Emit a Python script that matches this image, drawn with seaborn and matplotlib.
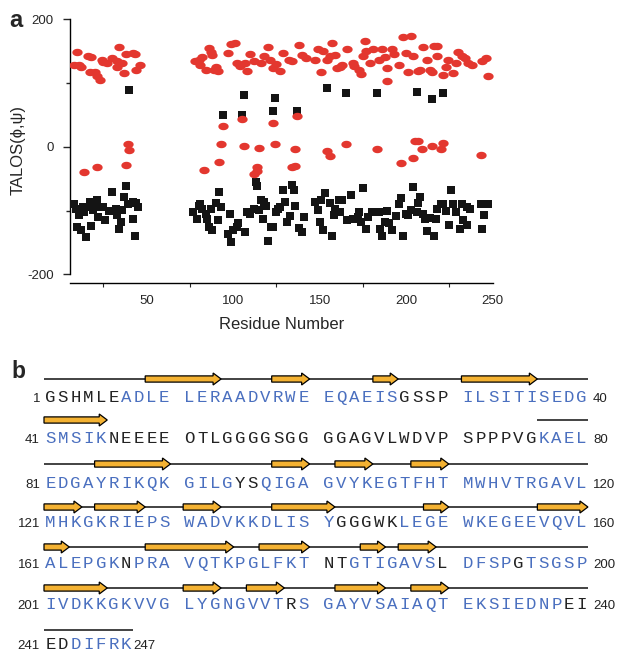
import numpy as np
import pandas as pd
import seaborn as sns
import matplotlib.pyplot as plt
from matplotlib.path import Path
from matplotlib.patches import FancyArrow
from matplotlib.ticker import FixedLocator

# ---------------- panel a data (TALOS phi / psi per residue) ----------------
psi_res = [8, 10, 11, 12, 16, 18, 17, 20, 21, 23, 24, 25, 27, 30, 33, 33, 34, 36, 37, 38,
           42, 43, 44, 46, 14, 21, 38, 39, 40,
           78, 80, 81, 82, 84, 86, 87, 88, 89, 90, 91, 97, 99, 101, 102, 104, 107, 108, 110,
           112, 116, 118, 120, 121, 123, 125, 127, 129, 132, 134, 138, 140, 142, 147, 149,
           152, 151, 154, 156, 157, 159, 160, 162, 163, 166, 169, 170, 173, 174, 175, 176,
           177, 179, 181, 184, 186, 188, 189, 189, 192, 193, 196, 198, 200, 201, 203, 204,
           207, 208, 210, 212, 214, 215, 216, 218, 218, 221, 223, 224, 227, 229, 230, 232,
           234, 236, 238, 244, 246, 247,
           83, 92, 93, 94, 105, 106, 112, 114, 114, 115, 123, 124, 134, 136, 136, 137, 154,
           156, 165, 183, 197, 204, 205, 207, 209, 215, 220, 221, 243]
psi_val = [128, 149, 128, 126, 142, 141, 118, 118, 111, 105, 137, 133, 132, 139, 135, 126, 157, 131, 116, 146,
           148, 146, 121, 129, -39, -31, -28, 5, -5,
           134, 136, 128, 141, 120, 155, 149, 144, 120, 126, 119, 148, 162, 163, 131, 127, 132, 119, 146,
           134, 131, 142, 156, 136, 123, 130, 119, 148, 136, 135, 160, 144, 140, 137, 154,
           151, 118, 136, 142, 163, 144, 123, 126, 128, 153, 132, 127, 121, 115, 142, 166,
           151, 131, 154, 137, 153, 141, 123, 104, 153, 146, 128, 173, 147, 118, 174, 142,
           119, 120, 157, 136, 121, 118, 158, 159, 142, 113, 126, 136, 116, 131, 149, 142,
           139, 131, 128, 134, 140, 111,
           -37, -23, 5, 32, 43, 1, -42, -32, -38, -1, 38, 4, -31, -30, -3, 48, -6,
           -14, 5, -4, -26, -18, 10, 9, -3, 2, -3, 6, -13]

phi_res = [40, 8, 9, 11, 10, 12, 15, 14, 16, 17, 18, 19, 21, 22, 23, 25, 26, 30, 32, 33,
           34, 35, 36, 38, 37, 39, 42, 42, 43, 45, 13, 20, 28, 44,
           106, 105, 94, 124, 123, 137, 154, 165, 183, 206, 215, 221,
           77, 79, 80, 81, 82, 84, 85, 86, 87, 88, 90, 91, 92, 93, 97, 98, 99, 100, 102, 103,
           107, 108, 110, 112, 113, 114, 115, 116, 117, 118, 119, 120, 122, 123, 125, 126,
           127, 129, 130, 131, 133, 134, 135, 136, 138, 140, 141, 147, 149, 150, 151, 152,
           153, 156, 157, 158, 159, 161, 162, 163, 166, 168, 169, 172, 173, 174, 175, 177,
           178, 180, 184, 185, 186, 188, 189, 190, 192, 194, 196, 197, 198, 200, 201, 203,
           204, 206, 207, 208, 210, 211, 212, 214, 216, 217, 218, 220, 221, 223, 225, 226,
           227, 229, 231, 232, 233, 235, 235, 237, 243, 244, 245, 247]
phi_val = [90, -89, -97, -107, -126, -131, -142, -102, -94, -86, -124, -99, -84, -110, -94, -94, -114, -70, -98, -107,
           -128, -118, -99, -61, -79, -89, -86, -113, -139, -94, -95, -90, -100, -88,
           81, 50, 50, 77, 57, 56, 92, 84, 85, 86, 75, 85,
           -102, -113, -92, -89, -98, -105, -113, -125, -98, -131, -88, -115, -71, -95, -136, -105, -149, -130, -125, -119,
           -134, -102, -105, -97, -55, -62, -99, -83, -113, -86, -92, -147, -125, -126, -102, -97,
           -94, -68, -86, -118, -109, -59, -68, -92, -127, -134, -110, -86, -99, -118, -84, -131,
           -73, -88, -139, -107, -97, -84, -102, -84, -114, -76, -113, -110, -102, -118, -64, -128,
           -110, -102, -102, -128, -140, -118, -101, -119, -131, -109, -89, -80, -140, -105, -107, -99,
           -63, -102, -88, -79, -105, -113, -132, -112, -139, -113, -98, -89, -90, -101, -123, -67,
           -89, -102, -128, -89, -115, -123, -95, -98, -89, -128, -107, -89]

# ---------------- panel b data (sequence + secondary structure) ----------------
sequence = ("GSHMLEADLELERAADVRWEEQAEISGSSPILSITISEDG"
            "SMSIKNEEEEOTLGGGGSGGGGAGVLWDVPSPPPVGKAEL"
            "EDGAYRIKQKGILGYSQIGAGVYKEGTFHTMWHVTRGAVL"
            "MHKGKRIEPSWADVKKDLISYGGGWKLEGEWKEGEEVQVL"
            "ALEPGKNPRAVQTKPGLFKTNTGTIGAVSLDFSPGTSGSP"
            "IVDKKGKVVGLYGNGVVTRSGAYVSAIAQTEKSIEDNPEI"
            "EDDIFRK")
unassigned = [(1, 6), (27, 30), (46, 76), (95, 96), (142, 146), (167, 167), (181, 182),
              (190, 190), (195, 195), (219, 219), (239, 240), (241, 242)]
strands = [(9, 13), (18, 20), (25, 26), (31, 36), (41, 45), (85, 90), (98, 100), (102, 104),
           (108, 110), (121, 123), (125, 128), (131, 133), (138, 141), (149, 150), (157, 160),
           (161, 162), (169, 174), (177, 180), (184, 185), (187, 189), (201, 205), (211, 213),
           (216, 218), (222, 225), (228, 230)]
coil_lines = [(1, 40), (77, 80), (81, 120), (121, 160), (161, 200), (201, 240), (241, 247)]

RED = "#E3372F"
BLACK = "#141414"
BLUE = "#4A6FBF"
ORANGE = "#F4B232"

sns.set_style("ticks")
plt.rcParams["font.family"] = ["Liberation Sans", "DejaVu Sans"]

W, H = 621, 654
fig = plt.figure(figsize=(W / 100, H / 100), dpi=100)

# ---------------- panel a ----------------
ax = fig.add_axes([69.7 / W, 1 - 282.7 / H, 423 / W, 264.6 / H])

t = np.linspace(0, 2 * np.pi, 41)
ellipse = Path(np.column_stack([np.cos(t), 0.72 * np.sin(t)]), closed=True)

df_phi = pd.DataFrame({"residue": phi_res, "angle": phi_val})
df_psi = pd.DataFrame({"residue": psi_res, "angle": psi_val})
sns.scatterplot(data=df_phi, x="residue", y="angle", marker="s", s=31, color=BLACK,
                linewidth=0, ax=ax, zorder=3)
sns.scatterplot(data=df_psi, x="residue", y="angle", marker=ellipse, s=55, color=RED,
                linewidth=0, ax=ax, zorder=4)

ax.set_xlim(5.5, 250)
ax.set_ylim(-213, 202)
sns.despine(ax=ax)
ax.spines["left"].set_bounds(-200, 200)
for sp in ("left", "bottom"):
    ax.spines[sp].set_linewidth(1.0)
    ax.spines[sp].set_color("black")

ax.set_yticks([-200, 0, 200])
ax.set_yticklabels(["-200", "0", "200"])
ax.yaxis.set_minor_locator(FixedLocator([-100, 100]))
ax.tick_params(axis="y", which="major", length=5, width=1, pad=6.5, labelsize=9.5)
ax.tick_params(axis="y", which="minor", length=3.2, width=1)
ax.set_xticks([50, 100, 150, 200, 250])
ax.xaxis.set_minor_locator(FixedLocator([25, 75, 125, 175, 225]))
ax.tick_params(axis="x", which="major", length=0, pad=8.5, labelsize=9.5)
ax.tick_params(axis="x", which="minor", length=3.2, width=0.8)

ax.set_xlabel("Residue Number", fontsize=12, va="top")
ax.xaxis.set_label_coords(0.5, -0.13)
ax.set_ylabel("TALOS(ϕ,ψ)", fontsize=12)
ax.yaxis.set_label_coords(-0.105, 0.5)

# ---------------- panel b (pixel coordinates) ----------------
axb = fig.add_axes([0, 0, 1, 1], zorder=-1)
axb.set_xlim(0, W)
axb.set_ylim(H, 0)
axb.set_axis_off()

x0, pitch = 44.0, 12.65
text_y = [402, 443, 488, 527, 568, 609, 649]
arrow_y = [379, 420, 464, 507, 547, 588, 630]


def xl(r):
    k = (r - 1) % 40
    return x0 + (k + k // 10) * pitch


def xr(r):
    return xl(r) + pitch


def is_unassigned(r):
    return any(a <= r <= b for a, b in unassigned)


for i, ch in enumerate(sequence):
    r = i + 1
    row = i // 40
    axb.text(xl(r) + pitch / 2, text_y[row], ch, ha="center", va="baseline",
             family="Liberation Mono", fontsize=12.5,
             color="#222222" if is_unassigned(r) else BLUE)

n_rows = (len(sequence) + 39) // 40
for row in range(n_rows):
    first = row * 40 + 1
    last = min(first + 39, len(sequence))
    axb.text(40, text_y[row], str(first), ha="right", va="baseline", fontsize=9.5, color="#222222")
    axb.text(xr(last) + 1 if last == len(sequence) else xr(last) + 5, text_y[row], str(last),
             ha="left", va="baseline", fontsize=9.5, color="#222222")

for a, b in coil_lines:
    row = (a - 1) // 40
    axb.plot([xl(a), xr(b)], [arrow_y[row], arrow_y[row]], color="#222222", lw=1.2,
             solid_capstyle="butt", zorder=1)

for a, b in strands:
    row = (a - 1) // 40
    xa, xb = xl(a), xr(b)
    axb.add_patch(FancyArrow(xa, arrow_y[row], xb - xa, 0, width=6.2, head_width=12,
                             head_length=8, length_includes_head=True, fc=ORANGE,
                             ec="black", lw=0.9, zorder=2))

axb.text(9, 27, "a", fontsize=17, fontweight="bold", va="baseline")
axb.text(11, 378, "b", fontsize=16.5, fontweight="bold", va="baseline")

fig.savefig("out.png", dpi=100)
